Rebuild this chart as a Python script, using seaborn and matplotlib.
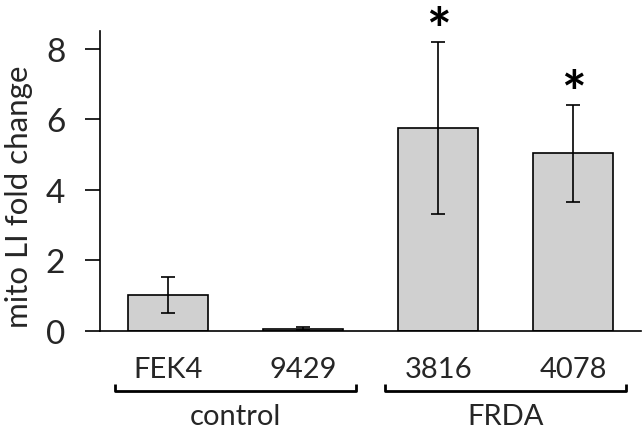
import numpy as np
import pandas as pd
import seaborn as sns
import matplotlib.pyplot as plt
import matplotlib.transforms as mtransforms

# values
lines = ["FEK4", "9429", "3816", "4078"]
fold_change = [1.01, 0.07, 5.76, 5.03]
sem = [0.51, 0.05, 2.44, 1.38]
groups = ["control", "FRDA"]
group_members = [[0, 1], [2, 3]]
significant = [False, False, True, True]

sns.set_theme(style="white")
plt.rcParams['font.family'] = ['Lato', 'DejaVu Sans']

df = pd.DataFrame({"line": lines, "fold": fold_change})

fig = plt.figure(figsize=(6.44, 4.31), dpi=100)
ax = fig.add_axes([100 / 644, 99 / 431, 541 / 644, 300 / 431])

sns.barplot(data=df, x="line", y="fold", color="#d0d0d0", edgecolor="black",
            linewidth=1.2, width=0.59, saturation=1, errorbar=None, ax=ax)
ax.errorbar(np.arange(len(lines)), fold_change, yerr=sem, fmt="none",
            ecolor="black", elinewidth=1.2, capsize=5, capthick=1.2)

# significance stars
for i, sig in enumerate(significant):
    if sig:
        ax.text(i, fold_change[i] + sem[i] - 0.2, "*", ha="center", va="baseline",
                fontsize=42, fontweight="bold", color="black")

ax.set_xlim(-0.5, 3.5)
ax.set_ylim(0, 8.5)
ax.set_yticks([0, 2, 4, 6, 8])
ax.set_xticks(np.arange(len(lines)))
ax.set_xticks(np.arange(-0.5, 4.0, 1.0), minor=True)
ax.tick_params(axis="x", which="major", length=0, labelsize=21, pad=18)
ax.tick_params(axis="x", which="minor", length=11, width=1.2, color="black", direction="out")
ax.tick_params(axis="y", length=11, width=1.2, color="black", labelsize=24, pad=14,
               direction="out", left=True)
ax.set_xlabel("")
ax.set_ylabel("mito LI fold change", fontsize=22.5)
ax.yaxis.set_label_coords(-0.124, 0.45)

for side in ["top", "right"]:
    ax.spines[side].set_visible(False)
for side in ["left", "bottom"]:
    ax.spines[side].set_color("black")
    ax.spines[side].set_linewidth(1.2)

# group brackets under the category labels
trans = mtransforms.blended_transform_factory(ax.transData, ax.transAxes)
for name, members in zip(groups, group_members):
    x0 = members[0] - 0.39
    x1 = members[-1] + 0.39
    ax.plot([x0, x0, x1, x1], [-0.177, -0.2, -0.2, -0.177], color="black",
            lw=2, transform=trans, clip_on=False, solid_capstyle="butt")
    ax.text((members[0] + members[-1]) / 2, -0.282, name, ha="center", va="center",
            fontsize=21, transform=trans)

fig.savefig("out.png", dpi=100)
